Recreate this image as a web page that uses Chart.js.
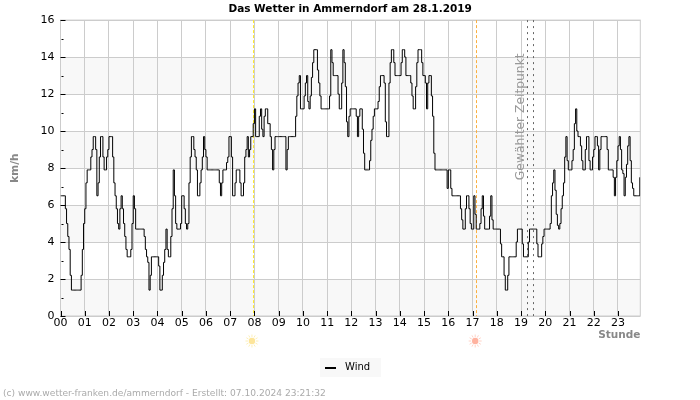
<!DOCTYPE html>
<html>
<head>
<meta charset="utf-8">
<title>Das Wetter in Ammerndorf</title>
<script src="https://cdn.jsdelivr.net/npm/chart.js@4/dist/chart.umd.js"></script>
<style>
    body { margin: 0; background: #fff; }
    canvas { display: block; }
</style>
</head>
<body>
<canvas id="wetter" width="700" height="400"></canvas>
<script>
// tick labels
const stunden = ['00','01','02','03','04','05','06','07','08','09','10','11','12','13','14','15','16','17','18','19','20','21','22','23'];
const kleineTicks = [1, 3, 5, 7, 9, 11, 13, 15];

// wind in km/h, one reading every 3 minutes, one row per hour
const wind = [
    6.5,6.5,6.5,6.5,5.8,5.0,4.3,3.6,2.2,1.4,1.4,1.4,1.4,1.4,1.4,1.4,1.4,2.2,3.6,5.0,
    5.8,7.2,7.9,7.9,7.9,8.6,9.0,9.7,9.7,9.0,6.5,7.2,8.6,9.7,9.7,8.6,7.9,7.9,8.6,9.0,
    9.7,9.7,9.7,8.6,7.2,6.5,5.8,5.0,4.7,5.8,6.5,5.8,5.0,4.3,3.6,3.2,3.2,3.2,3.6,5.0,
    6.5,5.8,4.7,4.7,4.7,4.7,4.7,4.7,4.7,4.3,3.6,3.2,2.9,1.4,2.2,3.2,3.2,3.2,3.2,3.2,
    3.2,2.7,1.4,1.4,2.2,2.9,3.6,4.7,3.6,3.2,3.2,4.3,5.8,7.9,6.5,5.0,4.7,4.7,4.7,5.0,
    6.5,6.5,5.8,5.0,4.7,5.0,7.2,8.6,9.7,9.7,9.0,8.6,7.9,6.5,6.5,7.2,7.9,8.6,9.7,9.0,
    8.6,7.9,7.9,7.9,7.9,7.9,7.9,7.9,7.9,7.9,7.9,7.2,6.5,7.2,7.9,7.9,7.9,8.3,8.6,9.7,
    9.7,8.6,6.5,6.5,7.2,7.9,7.9,7.9,7.2,6.5,6.5,7.2,8.6,9.0,9.7,8.6,9.0,9.7,9.7,10.4,
    11.2,9.7,9.7,9.7,10.8,11.2,10.1,9.7,10.8,11.2,11.2,10.4,10.4,9.7,9.0,7.9,9.0,9.7,9.7,9.7,
    9.7,9.7,9.7,9.7,9.7,9.7,7.9,9.0,9.7,9.7,9.7,9.7,9.7,9.7,10.8,11.9,12.6,13,11.2,11.2,
    11.2,11.9,12.6,13,11.6,11.2,11.9,12.9,13.7,14.4,14.4,14.4,13.3,12.6,11.9,11.2,11.2,11.2,11.2,11.2,
    11.2,11.2,11.9,14.4,13.7,13,13,13,13,12,11.2,11.2,12.6,14.4,13.7,12.4,10.5,9.7,10.8,11.2,
    11.2,11.2,11.2,11.2,10.8,9.7,10.8,11.2,11.2,10.1,8.8,7.9,7.9,7.9,7.9,8.4,9.5,10.1,10.8,11.2,
    11.2,11.2,11.6,12.4,13,13,13,12.6,10.5,9.7,9.7,12.6,13.7,14.4,14.4,13.7,13,13,13,13,
    13,13.7,14.4,14.4,14,13,13,13,13,12.6,11.9,11.2,11.2,12.4,13.7,14.4,14.4,14.4,13.7,13,
    13,12.6,11.2,12.6,13,13,11.9,10.8,8.8,7.9,7.9,7.9,7.9,7.9,7.9,7.9,7.9,7.9,7.9,6.9,
    7.9,7.9,6.9,6.5,6.5,6.5,6.5,6.5,6.5,6.5,5.8,5.2,4.7,4.7,5.8,6.5,6.5,5.8,5.0,4.7,
    4.7,6.5,5.5,4.7,4.7,4.7,5.0,5.8,6.5,5.4,4.7,4.7,4.7,4.7,5.4,6.5,5.2,4.7,4.7,4.7,
    4.7,4.7,4.7,3.9,3.2,3.2,2.2,1.4,1.4,2.2,3.2,3.2,3.2,3.2,3.2,3.2,4.0,4.7,4.7,4.7,
    4.7,3.9,3.2,3.2,3.2,3.2,4.0,4.7,4.7,4.7,4.7,4.7,4.7,3.9,3.2,3.2,3.2,3.9,4.3,4.7,
    4.7,4.7,4.7,4.7,5.0,6.5,7.2,7.9,6.8,5.5,4.9,4.7,5.0,5.8,6.5,7.2,8.6,9.7,8.4,7.9,
    7.9,7.9,8.4,9.0,10.4,11.2,10,9.7,9.7,9.2,8.4,7.9,7.9,9.0,9.7,9.7,8.4,7.9,7.9,8.6,
    9.0,9.7,9.7,9.2,7.9,9.0,9.7,9.7,9.7,9.7,9.7,9.0,7.9,7.9,7.9,7.9,7.5,6.5,7.5,8.4,
    9.2,9.7,9.0,7.9,7.7,6.5,7.5,8.2,9.2,9.7,8.4,7.2,6.9,6.5,6.5,6.5,6.5,6.5,7.5
];

// times in hours
const sonnenaufgang = 7.94;
const sonnenuntergang = 17.15;
const gewaehlt = [19.26, 19.5];
const graueBaender = [[0, 2], [4, 6], [8, 10], [12, 14]];

const schrift = '"DejaVu Sans"';

function sonne(ctx, x, y, farbe, strahl) {
    ctx.strokeStyle = strahl;
    ctx.lineWidth = 1;
    for (let i = 0; i < 12; i++) {
        const w = i * Math.PI / 6;
        ctx.beginPath();
        ctx.moveTo(x + Math.cos(w) * 4, y + Math.sin(w) * 4);
        ctx.lineTo(x + Math.cos(w) * 6.5, y + Math.sin(w) * 6.5);
        ctx.stroke();
    }
    ctx.fillStyle = farbe;
    ctx.beginPath();
    ctx.arc(x, y, 3.2, 0, Math.PI * 2);
    ctx.fill();
}

function senkrecht(ctx, x, oben, unten, farbe, muster) {
    ctx.save();
    ctx.strokeStyle = farbe;
    ctx.lineWidth = 1;
    ctx.setLineDash(muster);
    ctx.beginPath();
    ctx.moveTo(Math.round(x) + 0.5, oben);
    ctx.lineTo(Math.round(x) + 0.5, unten);
    ctx.stroke();
    ctx.restore();
}

// bands, tick marks, sunrise/sunset and the remaining texts
const extras = {
    id: 'extras',
    afterLayout(chart) {
        // the right padding pulls title and legend off the page centre, push them back
        chart.titleBlock.left += 30;
        chart.titleBlock.right += 30;
        chart.legend.left += 30;
        chart.legend.right += 30;
    },
    beforeDraw(chart) {
        const { ctx, chartArea: a, scales: { y } } = chart;
        ctx.save();
        ctx.fillStyle = '#f8f8f8';
        graueBaender.forEach(([von, bis]) => {
            ctx.fillRect(a.left, y.getPixelForValue(bis), a.width, y.getPixelForValue(von) - y.getPixelForValue(bis));
        });
        ctx.fillRect(320, 358, 61, 19); // legend background
        ctx.fillStyle = '#000';
        ctx.fillRect(325, 367, 11, 2); // legend key
        ctx.restore();
    },
    beforeDatasetsDraw(chart) {
        const { ctx, chartArea: a, scales: { x, y } } = chart;
        ctx.save();
        ctx.strokeStyle = '#ccc';
        ctx.lineWidth = 1;
        ctx.strokeRect(a.left, a.top, a.width, a.height);

        senkrecht(ctx, x.getPixelForValue(sonnenaufgang), a.top, a.bottom, '#ffe92e', [3, 2]);
        senkrecht(ctx, x.getPixelForValue(sonnenuntergang), a.top, a.bottom, '#fbb040', [3, 2]);
        gewaehlt.forEach((t) => senkrecht(ctx, x.getPixelForValue(t), a.top, a.bottom, '#666', [2, 4]));

        ctx.strokeStyle = '#000';
        ctx.beginPath();
        stunden.forEach((s, i) => {
            const px = Math.round(x.getPixelForValue(i)) + 0.5;
            ctx.moveTo(px, a.bottom - 5);
            ctx.lineTo(px, a.bottom);
        });
        for (let v = 0; v <= 16; v += 2) {
            const py = Math.round(y.getPixelForValue(v)) + 0.5;
            ctx.moveTo(a.left, py);
            ctx.lineTo(a.left + 5, py);
        }
        kleineTicks.forEach((v) => {
            const py = Math.round(y.getPixelForValue(v)) + 0.5;
            ctx.moveTo(a.left + 1, py);
            ctx.lineTo(a.left + 3, py);
        });
        ctx.stroke();
        ctx.restore();
    },
    afterDraw(chart) {
        const { ctx, scales: { x, y } } = chart;
        ctx.save();
        sonne(ctx, x.getPixelForValue(sonnenaufgang) - 1, 341, '#fde59a', '#fcefb8');
        sonne(ctx, x.getPixelForValue(sonnenuntergang) - 1, 341, '#ffb3a0', '#ffd2c6');

        ctx.save();
        ctx.translate(x.getPixelForValue(gewaehlt[0]) - 7, y.getPixelForValue(14.2));
        ctx.rotate(-Math.PI / 2);
        ctx.font = '12.3px ' + schrift;
        ctx.fillStyle = '#999';
        ctx.textAlign = 'right';
        ctx.textBaseline = 'middle';
        ctx.fillText('Gewählter Zeitpunkt', 0, 0);
        ctx.restore();

        ctx.font = '9.1px ' + schrift;
        ctx.fillStyle = '#aaa';
        ctx.textAlign = 'left';
        ctx.textBaseline = 'middle';
        ctx.fillText('(c) www.wetter-franken.de/ammerndorf - Erstellt: 07.10.2024 23:21:32', 3, 393.5);
        ctx.restore();
    }
};

new Chart(document.getElementById('wetter'), {
    type: 'line',
    plugins: [extras],
    data: {
        datasets: [{
            label: 'Wind',
            data: wind.map((w, i) => ({ x: i * 3 / 60, y: w })),
            borderColor: '#000',
            borderWidth: 1,
            stepped: true,
            pointRadius: 0,
            fill: false
        }]
    },
    options: {
        responsive: false,
        animation: false,
        layout: { padding: { right: 59.7, bottom: 18 } },
        plugins: {
            tooltip: { enabled: false },
            title: {
                display: true,
                text: 'Das Wetter in Ammerndorf am 28.1.2019',
                color: '#000',
                font: { family: schrift, size: 10.5, weight: 'bold' },
                padding: { top: 2.5, bottom: 5 }
            },
            legend: {
                position: 'bottom',
                labels: {
                    color: '#000',
                    font: { family: schrift, size: 10 },
                    padding: 20,
                    usePointStyle: true,
                    generateLabels: () => [{ text: 'Wind', pointStyle: 'line', strokeStyle: 'rgba(0,0,0,0)', lineWidth: 0, fontColor: '#000' }]
                }
            }
        },
        scales: {
            x: {
                type: 'linear',
                min: 0,
                max: 23.92,
                afterFit(s) { s.height = 26; },
                grid: { color: '#ccc', drawTicks: false },
                border: { display: false },
                title: {
                    display: true,
                    text: 'Stunde',
                    align: 'end',
                    color: '#888',
                    font: { family: schrift, size: 10.5, weight: 'bold' },
                    padding: 0
                },
                ticks: {
                    stepSize: 1,
                    includeBounds: false,
                    autoSkip: false,
                    maxRotation: 0,
                    padding: 1,
                    color: '#000',
                    font: { family: schrift, size: 11 },
                    callback: (v) => stunden[v]
                }
            },
            y: {
                min: 0,
                max: 16,
                afterFit(s) { s.width = 60.5; },
                grid: { color: '#ccc', drawTicks: false },
                border: { display: false },
                title: {
                    display: true,
                    text: 'km/h',
                    color: '#888',
                    font: { family: schrift, size: 10.5, weight: 'bold' },
                    padding: { top: 9, bottom: 0 }
                },
                ticks: {
                    stepSize: 2,
                    padding: 6,
                    color: '#000',
                    font: { family: schrift, size: 11 }
                }
            }
        }
    }
});
</script>
</body>
</html>
